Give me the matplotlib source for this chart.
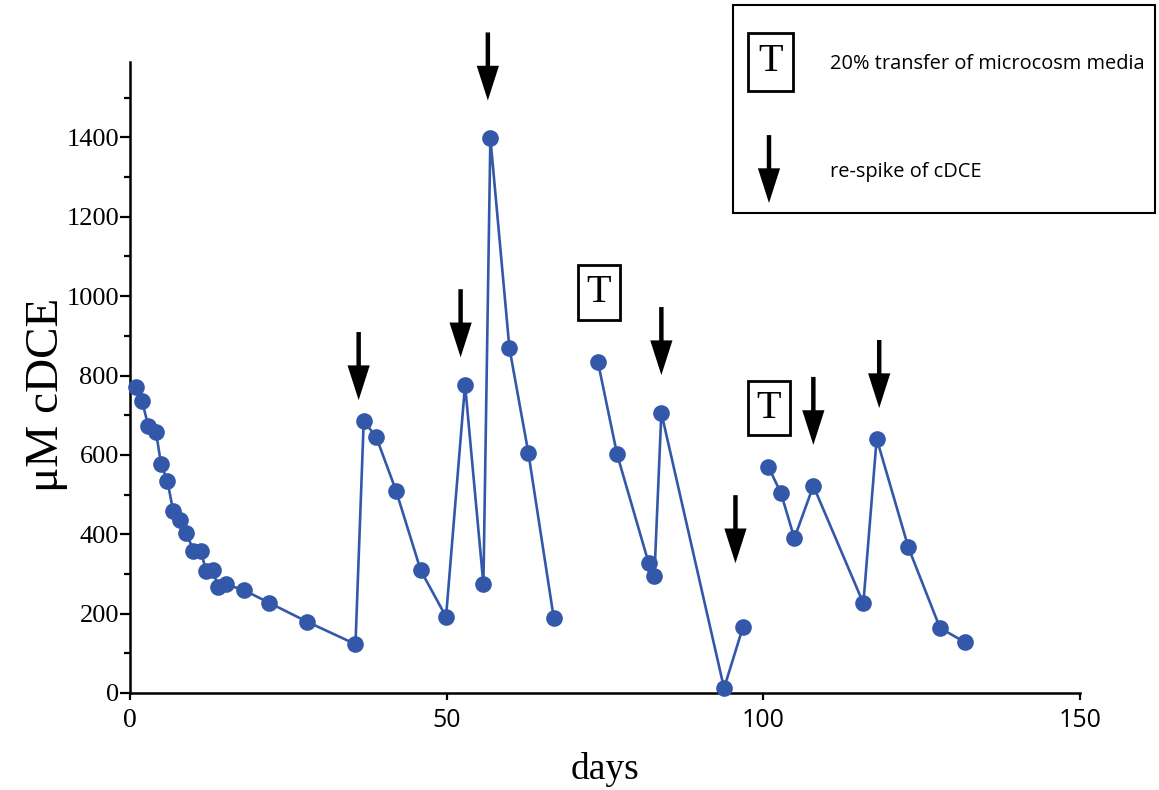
import matplotlib
matplotlib.use("Agg")
from matplotlib import pyplot as plt
from matplotlib.patches import Rectangle
from matplotlib.ticker import MultipleLocator

# cDCE concentration (uM) by day, three runs separated by the media transfers
days_a = [0.9, 1.9, 2.9, 4.1, 4.9, 5.9, 6.8, 7.9, 8.9, 10.0, 11.2, 12.0, 13.1, 13.9, 15.1,
          18.0, 22.0, 27.9, 35.6, 36.9, 38.9, 42.0, 45.9, 49.9, 52.9, 55.8, 56.9, 59.9,
          62.9, 66.9]
cdce_a = [771, 735, 672, 658, 576, 535, 459, 436, 404, 358, 358, 307, 310, 266, 274,
          259, 227, 180, 123, 686, 644, 510, 309, 192, 777, 274, 1398, 870, 605, 190]

days_b = [73.9, 76.9, 81.9, 82.8, 83.9, 93.8, 96.8]
cdce_b = [833, 602, 327, 295, 706, 12, 167]

days_c = [100.8, 102.8, 104.9, 107.9, 115.8, 117.9, 122.9, 127.9, 131.8]
cdce_c = [570, 503, 390, 522, 226, 641, 367, 164, 128]

# re-spike arrows (day, tip level) and transfer markers (day, level)
spike_days = [36.1, 52.2, 56.5, 83.9, 95.6, 107.9, 118.3]
spike_tips = [738, 846, 1493, 801, 327, 625, 718]
transfer_days = [74.0, 100.9]
transfer_levels = [1010, 718]

LINE_COLOR = "#3458A9"
SERIF = "Liberation Serif"
SANS = "Open Sans"

fig = plt.figure(figsize=(11.59, 7.9), dpi=100)
ax = fig.add_axes([0.1122, 0.1228, 0.8196, 0.7987])

for d, v in [(days_a, cdce_a), (days_b, cdce_b), (days_c, cdce_c)]:
    ax.plot(d, v, color=LINE_COLOR, lw=1.9, marker="o", ms=12,
            markeredgewidth=0, clip_on=False, zorder=3)

ax.set_xlim(0, 150)
ax.set_ylim(0, 1590)
ax.set_xticks([0, 50, 100, 150])
ax.yaxis.set_major_locator(MultipleLocator(200))
ax.yaxis.set_minor_locator(MultipleLocator(100))

for s in ["top", "right"]:
    ax.spines[s].set_visible(False)
for s in ["left", "bottom"]:
    ax.spines[s].set_linewidth(1.8)

ax.tick_params(axis="y", which="major", length=7, width=1.6, pad=1)
ax.tick_params(axis="y", which="minor", length=4, width=1.6)
ax.tick_params(axis="x", which="major", length=5, width=1.6, pad=6)

for lab in ax.get_yticklabels():
    lab.set_fontfamily(SERIF)
    lab.set_fontsize(19)
for i, lab in enumerate(ax.get_xticklabels()):
    lab.set_fontfamily(SERIF if i == 0 else SANS)
    lab.set_fontsize(20 if i == 0 else 18)

ax.text(0.5, -0.093, "days", transform=ax.transAxes, ha="center", va="top",
        fontsize=27, family=SERIF)
ax.text(-0.088, 0.472, "\u03bcM cDCE", transform=ax.transAxes, ha="center",
        va="center", rotation=90, fontsize=34, family=SERIF)

arrow_props = dict(arrowstyle="simple,head_length=2.5,head_width=1.6,tail_width=0.32",
                   mutation_scale=10, lw=0, fc="black", ec="none",
                   shrinkA=0, shrinkB=0)

for d, tip in zip(spike_days, spike_tips):
    ax.annotate("", xy=(d, tip), xytext=(0, 49), textcoords="offset points",
                arrowprops=arrow_props, annotation_clip=False)

box_style = dict(boxstyle="square,pad=0.22", fc="white", ec="black", lw=2)
for d, lvl in zip(transfer_days, transfer_levels):
    ax.text(d, lvl, "T", ha="center", va="center", fontsize=29, family=SERIF,
            bbox=box_style)

# hand-made legend box
fig.add_artist(Rectangle((0.6325, 0.7304), 0.3641, 0.2633, transform=fig.transFigure,
                         fill=False, ec="black", lw=1.5))
fig.text(0.6648, 0.922, "T", ha="center", va="center", fontsize=29, family=SERIF,
         bbox=dict(boxstyle="square,pad=0.26", fc="white", ec="black", lw=2))
fig.text(0.716, 0.919, "20% transfer of microcosm media", ha="left", va="center",
         fontsize=14.4, family=SANS)
fig.text(0.716, 0.782, "re-spike of cDCE", ha="left", va="center",
         fontsize=14.4, family=SANS)
ax.annotate("", xy=(0.6635, 0.743), xytext=(0.6635, 0.829),
            xycoords="figure fraction", textcoords="figure fraction",
            arrowprops=arrow_props, annotation_clip=False)

fig.savefig("out.png", dpi=100)
